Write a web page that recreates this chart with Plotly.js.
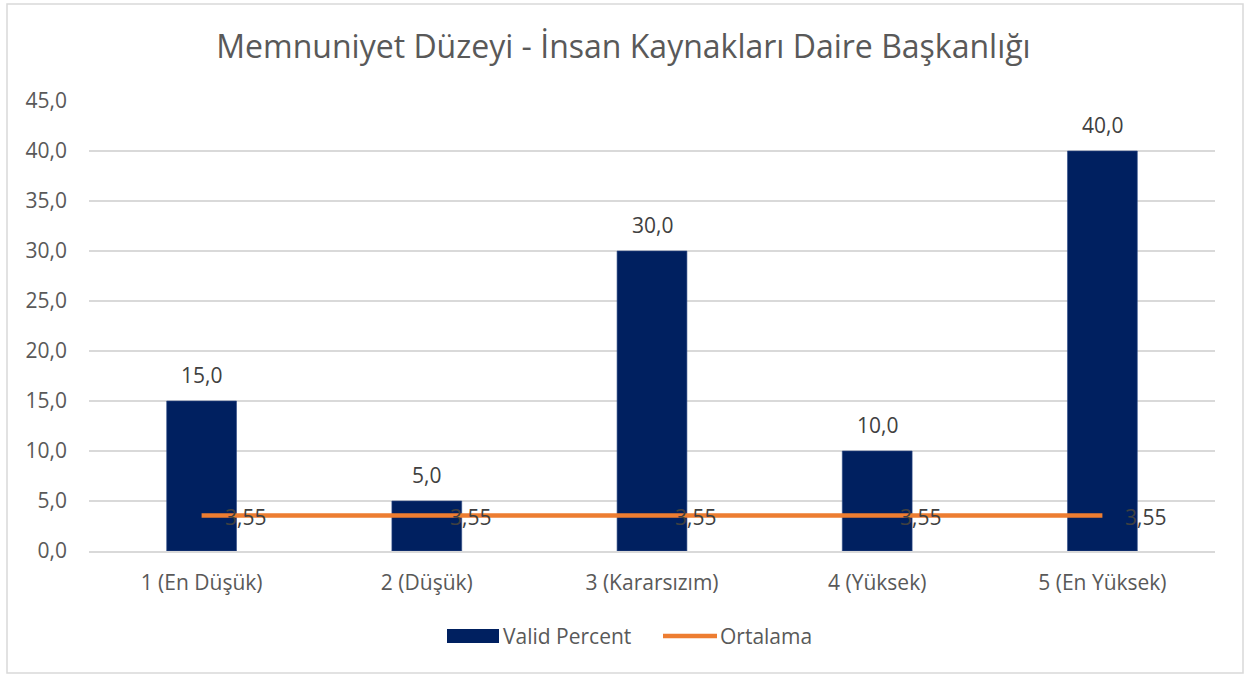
<!DOCTYPE html>
<html>
<head>
<meta charset="utf-8">
<script src="https://cdn.plot.ly/plotly-3.0.1.min.js"></script>
<style>html,body{margin:0;padding:0;background:#fff;}#chart{width:1247px;height:675px;}</style>
</head>
<body>
<div id="chart"></div>
<script>
const categories = ["1 (En Düşük)", "2 (Düşük)", "3 (Kararsızım)", "4 (Yüksek)", "5 (En Yüksek)"];
const validPercent = [15.0, 5.0, 30.0, 10.0, 40.0];
const ortalama = [3.55, 3.55, 3.55, 3.55, 3.55];
const yTicks = [0, 5, 10, 15, 20, 25, 30, 35, 40, 45];
const seriesNames = ["Valid Percent", "Ortalama"];
const chartTitle = "Memnuniyet Düzeyi - İnsan Kaynakları Daire Başkanlığı";

const FONT = "Open Sans, Noto Sans, sans-serif";
const fmt = (v, d) => v.toFixed(d).replace('.', ',');

const traces = [
  {
    type: 'bar', x: categories, y: validPercent, name: seriesNames[0],
    marker: {color: '#002060', line: {color: '#2f4b86', width: 0.6}},
    width: 0.31, showlegend: false, hoverinfo: 'x+y'
  },
  {
    type: 'scatter', mode: 'lines', x: categories, y: ortalama, name: seriesNames[1],
    line: {color: '#ED7D31', width: 4.5}, showlegend: false
  }
];

const annotations = [];
categories.forEach((c, i) => {
  annotations.push({x: c, y: validPercent[i], xref: 'x', yref: 'y', text: fmt(validPercent[i], 1),
    showarrow: false, yanchor: 'bottom', yshift: 10, font: {family: FONT, size: 21, color: '#404040'}});
  annotations.push({x: c, y: ortalama[i], xref: 'x', yref: 'y', text: fmt(ortalama[i], 2),
    showarrow: false, xanchor: 'left', yanchor: 'middle', xshift: 21, yshift: -1,
    font: {family: FONT, size: 21, color: '#404040'}});
});

// custom legend (paper coords)
const px = x => (x - 89) / 1126;
const py = y => (551 - y) / 450;
annotations.push({xref: 'paper', yref: 'paper', x: px(501), y: py(636), xanchor: 'left', yanchor: 'middle',
  text: seriesNames[0], showarrow: false, font: {family: FONT, size: 21, color: '#595959'}});
annotations.push({xref: 'paper', yref: 'paper', x: px(718), y: py(636), xanchor: 'left', yanchor: 'middle',
  text: seriesNames[1], showarrow: false, font: {family: FONT, size: 21, color: '#595959'}});

const shapes = [
  {type: 'rect', xref: 'paper', yref: 'paper', x0: px(7), x1: px(1243), y0: py(673), y1: py(4),
   line: {color: '#d9d9d9', width: 1.5}, fillcolor: 'rgba(0,0,0,0)', layer: 'below'},
  {type: 'rect', xref: 'paper', yref: 'paper', x0: px(447), x1: px(499), y0: py(643), y1: py(629),
   line: {width: 0}, fillcolor: '#002060'},
  {type: 'line', xref: 'paper', yref: 'paper', x0: px(663), x1: px(717), y0: py(636), y1: py(636),
   line: {color: '#ED7D31', width: 4.5}}
];

const layout = {
  width: 1247, height: 675,
  margin: {l: 89, r: 32, t: 101, b: 124},
  paper_bgcolor: '#ffffff', plot_bgcolor: '#ffffff',
  separators: ',.',
  title: {text: chartTitle, x: 0.5, xanchor: 'center', y: 1 - 47/675, yanchor: 'middle',
          font: {family: FONT, size: 32, color: '#595959'}},
  xaxis: {type: 'category', showgrid: false, showline: true, linecolor: '#d9d9d9', linewidth: 1.5,
          ticks: '', tickfont: {family: FONT, size: 21, color: '#595959'}, ticklabelstandoff: 12,
          zeroline: false, fixedrange: true},
  yaxis: {range: [0, 45], tickvals: yTicks, tickformat: '.1f', showgrid: true, gridcolor: '#d9d9d9',
          gridwidth: 1.5, zeroline: false, showline: false, ticks: '',
          tickfont: {family: FONT, size: 21, color: '#595959'}, ticklabelstandoff: 21, fixedrange: true},
  bargap: 0.69,
  showlegend: false,
  annotations: annotations,
  shapes: shapes
};

Plotly.newPlot('chart', traces, layout, {displayModeBar: false, staticPlot: true});
</script>
</body>
</html>
